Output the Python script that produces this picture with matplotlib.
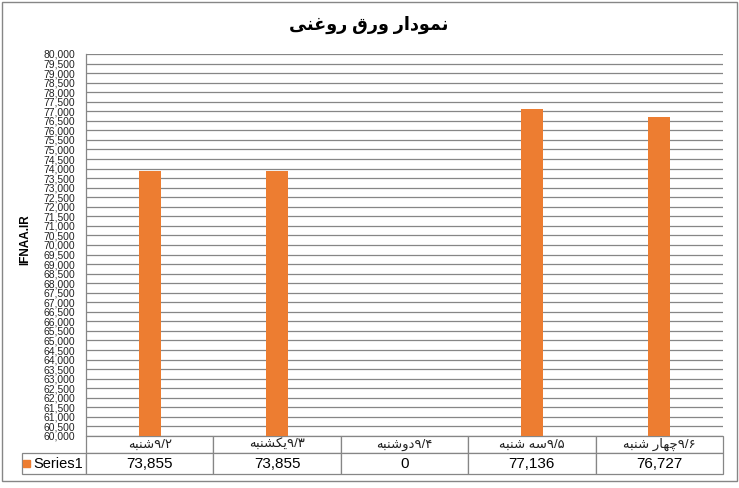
import re
import matplotlib.pyplot as plt
from matplotlib.patches import Rectangle
from matplotlib.ticker import MultipleLocator, StrMethodFormatter

# data
title = 'نمودار ورق روغنی'
ylabel = 'IFNAA.IR'
series_name = 'Series1'
days = ['شنبه۹/۲', 'یکشنبه۹/۳', 'دوشنبه۹/۴', 'سه شنبه۹/۵', 'چهار شنبه۹/۶']
values = [73855, 73855, 0, 77136, 76727]
y_min, y_max, y_step = 60000, 80000, 500

# matplotlib does not shape arabic script, so map letters to presentation forms
# (isolated, final, initial, medial); two-form letters do not join to the next one
forms = {
    'ا': ('\ufe8d', '\ufe8e'),
    'ب': ('\ufe8f', '\ufe90', '\ufe91', '\ufe92'),
    'چ': ('\ufb7a', '\ufb7b', '\ufb7c', '\ufb7d'),
    'د': ('\ufea9', '\ufeaa'),
    'ر': ('\ufead', '\ufeae'),
    'س': ('\ufeb1', '\ufeb2', '\ufeb3', '\ufeb4'),
    'ش': ('\ufeb5', '\ufeb6', '\ufeb7', '\ufeb8'),
    'غ': ('\ufecd', '\ufece', '\ufecf', '\ufed0'),
    'ق': ('\ufed5', '\ufed6', '\ufed7', '\ufed8'),
    'ک': ('\ufb8e', '\ufb8f', '\ufb90', '\ufb91'),
    'م': ('\ufee1', '\ufee2', '\ufee3', '\ufee4'),
    'ن': ('\ufee5', '\ufee6', '\ufee7', '\ufee8'),
    'ه': ('\ufee9', '\ufeea', '\ufeeb', '\ufeec'),
    'و': ('\ufeed', '\ufeee'),
    'ی': ('\ufbfc', '\ufbfd', '\ufbfe', '\ufbff'),
}
digits = '۰۱۲۳۴۵۶۷۸۹'


def shape(s):
    out = []
    for i, c in enumerate(s):
        if c not in forms:
            out.append(c)
            continue
        prev = s[i - 1] if i > 0 else ''
        nxt = s[i + 1] if i + 1 < len(s) else ''
        f = forms[c]
        join_prev = prev in forms and len(forms[prev]) == 4
        join_next = len(f) == 4 and nxt in forms
        if join_prev and join_next:
            out.append(f[3])
        elif join_prev:
            out.append(f[1])
        elif join_next:
            out.append(f[2])
        else:
            out.append(f[0])
    return ''.join(out)


def rtl(s):
    # words are laid right to left, the date stays at the end as in the picture
    parts = re.findall('[' + digits + '/]+|[^' + digits + '/]+', shape(s))
    words = ''.join(p for p in parts if p[0] not in digits)
    nums = ''.join(p for p in parts if p[0] in digits)
    return words[::-1] + nums


plt.rcParams['font.family'] = ['Liberation Sans', 'DejaVu Sans']
grey = '#868686'
orange = '#ED7D31'

W, H = 739, 488
fig = plt.figure(figsize=(W / 100, H / 100), dpi=100)
left, right, top, bottom = 86, 723, 54, 436
ax = fig.add_axes([left / W, 1 - bottom / H, (right - left) / W, (bottom - top) / H])

x = range(len(days))
ax.bar(x, values, width=0.17, color=orange, zorder=3)
ax.set_xlim(-0.5, len(days) - 0.5)
ax.set_ylim(y_min, y_max)
ax.yaxis.set_major_locator(MultipleLocator(y_step))
ax.yaxis.set_major_formatter(StrMethodFormatter('{x:,.0f}'))
ax.tick_params(axis='y', length=0, pad=8, labelsize=7.5, labelcolor='#222222')
ax.set_xticks([])
ax.grid(axis='y', color=grey, linewidth=0.9)
ax.set_axisbelow(True)
for side in ['top', 'right', 'bottom']:
    ax.spines[side].set_visible(False)
ax.spines['left'].set_color(grey)
ax.spines['left'].set_linewidth(0.9)

# data table below the plot
pw, ph = right - left, bottom - top
tx0, tx1, ty1 = 22, 723, 474
tab = ax.table(cellText=[[series_name] + [f'{v:,}' for v in values]],
               colLabels=[''] + [rtl(d) for d in days],
               colWidths=[64] + [127.4] * len(days), cellLoc='center',
               bbox=[(tx0 - left) / pw, -(ty1 - bottom) / ph, (tx1 - tx0) / pw, (ty1 - bottom) / ph])
tab.auto_set_font_size(False)
for (r, c), cell in tab.get_celld().items():
    cell.set_edgecolor(grey)
    cell.set_linewidth(0.9)
    cell.set_height(17 if r == 0 else 21)
    if r == 0:
        cell.get_text().set_fontsize(9.5)
        cell.get_text().set_color('#222222')
        if c == 0:
            cell.visible_edges = 'open'
    else:
        if c == 0:
            cell.get_text().set_fontsize(10.5)
            cell.get_text().set_ha('right')
            cell._loc = 'right'
            cell.PAD = 0.04
        else:
            cell.get_text().set_fontsize(11)
            cell.get_text().set_fontfamily(['Liberation Sans Narrow', 'Liberation Sans'])
ax.add_patch(Rectangle(((23 - left) / pw, -(467 - bottom) / ph), 7 / pw, 7 / ph,
                       transform=ax.transAxes, color=orange, clip_on=False))

fig.text(369 / W, 1 - 25 / H, rtl(title), ha='center', va='center',
         fontsize=12.7, fontweight='bold')
fig.text(25 / W, 1 - 240 / H, ylabel, rotation=90, ha='center', va='center',
         fontsize=8.5, fontweight='bold')
fig.add_artist(Rectangle((2 / W, 1 - 481 / H), 735 / W, 479 / H, transform=fig.transFigure,
                         fill=False, edgecolor=grey, linewidth=1))

fig.savefig('out.png', dpi=100)
